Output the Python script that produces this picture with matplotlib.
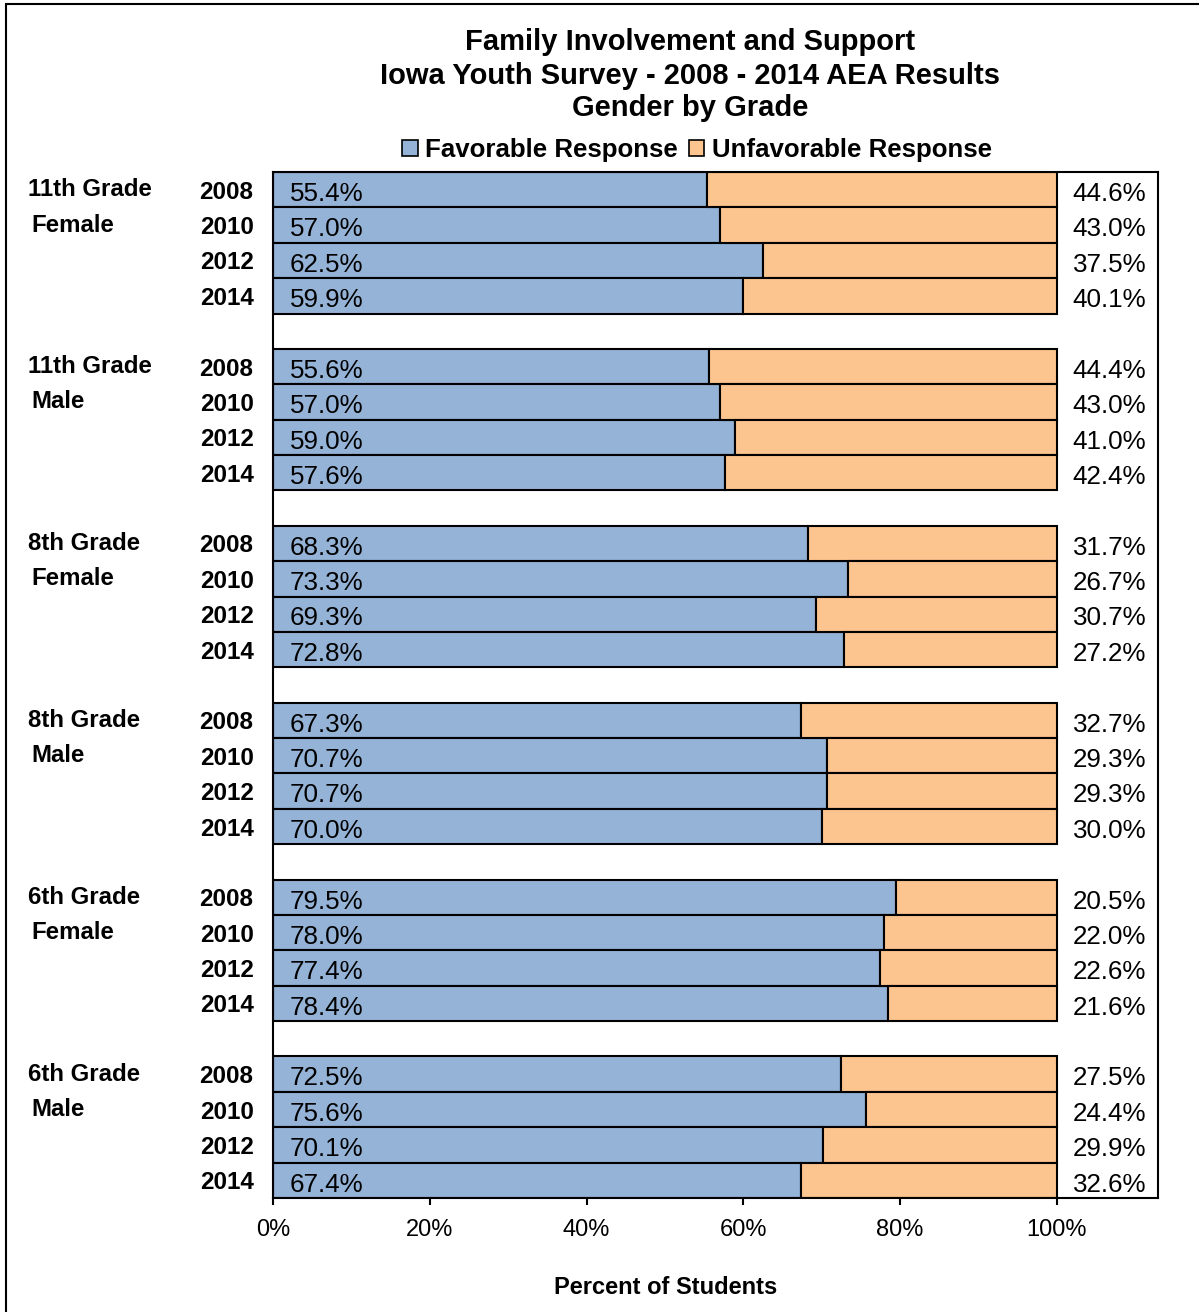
import matplotlib
matplotlib.use("Agg")
import matplotlib.pyplot as plt
from matplotlib.patches import Patch, Rectangle
import matplotlib.transforms as mtransforms

plt.rcParams['font.family'] = ['Liberation Sans', 'DejaVu Sans']

groups = ["11th Grade\nFemale", "11th Grade\nMale", "8th Grade\nFemale",
          "8th Grade\nMale", "6th Grade\nFemale", "6th Grade\nMale"]
years = ["2008", "2010", "2012", "2014"]
favorable = [
    [55.4, 57.0, 62.5, 59.9],
    [55.6, 57.0, 59.0, 57.6],
    [68.3, 73.3, 69.3, 72.8],
    [67.3, 70.7, 70.7, 70.0],
    [79.5, 78.0, 77.4, 78.4],
    [72.5, 75.6, 70.1, 67.4],
]
unfavorable = [
    [44.6, 43.0, 37.5, 40.1],
    [44.4, 43.0, 41.0, 42.4],
    [31.7, 26.7, 30.7, 27.2],
    [32.7, 29.3, 29.3, 30.0],
    [20.5, 22.0, 22.6, 21.6],
    [27.5, 24.4, 29.9, 32.6],
]
xticks = [0, 20, 40, 60, 80, 100]
xticklabels = ["0%", "20%", "40%", "60%", "80%", "100%"]

BLUE = "#95B3D7"
ORANGE = "#FCC48F"

W, H = 1199, 1312
fig = plt.figure(figsize=(W / 100, H / 100), dpi=100)

# outer frame
fig.patches.append(Rectangle((6 / W, -0.05), 1.2, 1 - 4 / H + 0.05, transform=fig.transFigure,
                             fill=False, edgecolor="black", linewidth=1.5))

ax = fig.add_axes([273 / W, 1 - 1198 / H, (1158 - 273) / W, (1198 - 172) / H])

pos, fav, unf, ylab = [], [], [], []
for g in range(len(groups)):
    for j in range(len(years)):
        pos.append(g * 5 + j)
        fav.append(favorable[g][j])
        unf.append(unfavorable[g][j])
        ylab.append(years[j])

ax.barh(pos, fav, height=1.0, color=BLUE, edgecolor="black", linewidth=1.5)
ax.barh(pos, unf, left=fav, height=1.0, color=ORANGE, edgecolor="black", linewidth=1.5)

for p, f, u in zip(pos, fav, unf):
    ax.text(2.1, p + 0.12, f"{f:.1f}%", ha="left", va="center", fontsize=18.7)
    ax.text(102.0, p + 0.12, f"{u:.1f}%", ha="left", va="center", fontsize=18.7)

ax.set_xlim(0, 100 * (1158 - 274) / (1057 - 274))
ax.set_ylim(28.5, -0.5)
ax.set_xticks(xticks)
ax.set_xticklabels(xticklabels, fontsize=17)
ax.set_yticks(pos)
ax.set_yticklabels(ylab, fontsize=17.5, fontweight="bold")
ax.tick_params(axis="y", length=0, pad=14)
ax.tick_params(axis="x", length=5, width=1.5, direction="out", pad=10)
for s in ax.spines.values():
    s.set_linewidth(1.5)

trans = mtransforms.blended_transform_factory(fig.transFigure, ax.transData)
for g, name in enumerate(groups):
    l1, l2 = name.split("\n")
    ax.text(28 / W, g * 5 + 0.0, l1, transform=trans, ha="left", va="center",
            fontsize=17.3, fontweight="bold")
    ax.text(31 / W, g * 5 + 1.0, l2, transform=trans, ha="left", va="center",
            fontsize=17.3, fontweight="bold")

cx = 690 / W
fig.text(cx, 1 - 42 / H, "Family Involvement and Support", ha="center", va="center",
         fontsize=21, fontweight="bold")
fig.text(cx, 1 - 76 / H, "Iowa Youth Survey - 2008 - 2014 AEA Results", ha="center", va="center",
         fontsize=21, fontweight="bold")
fig.text(cx, 1 - 108 / H, "Gender by Grade", ha="center", va="center",
         fontsize=21, fontweight="bold")

handles = [Patch(facecolor=BLUE, edgecolor="black", linewidth=1.2, label="Favorable Response"),
           Patch(facecolor=ORANGE, edgecolor="black", linewidth=1.2, label="Unfavorable Response")]
fig.legend(handles=handles, loc="center", bbox_to_anchor=(697 / W, 1 - 150 / H), ncol=2,
           frameon=False, handlelength=0.6, handleheight=0.6, handletextpad=0.3,
           columnspacing=0.4, prop={"size": 18.6, "weight": "bold"})

fig.text(666 / W, 1 - 1287 / H, "Percent of Students", ha="center", va="center",
         fontsize=17, fontweight="bold")

fig.savefig("out.png", dpi=100)
